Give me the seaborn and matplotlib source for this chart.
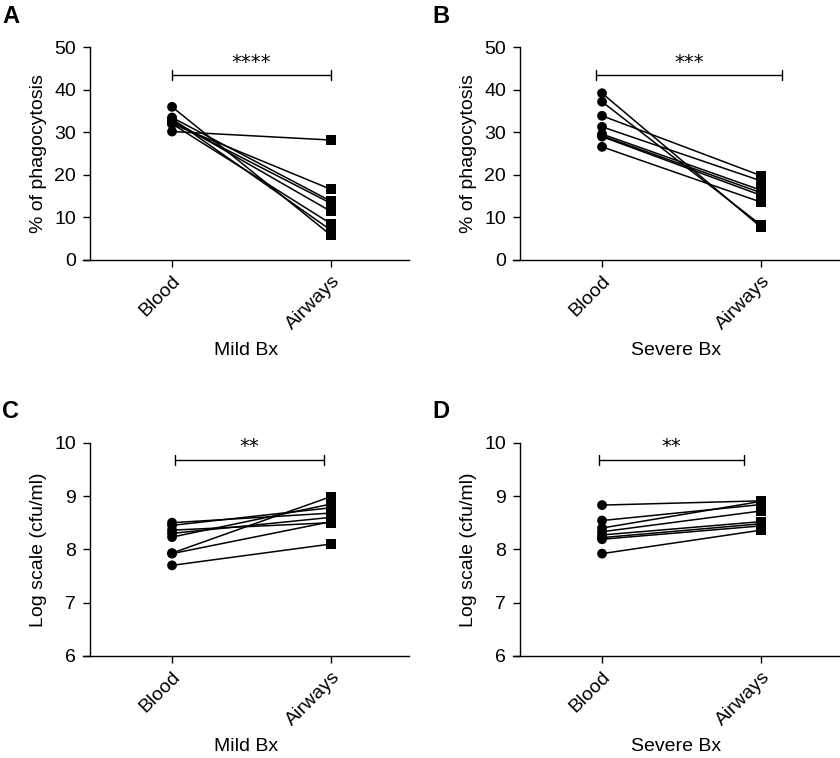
import pandas as pd
import seaborn as sns
import matplotlib.pyplot as plt

sns.set_style("ticks")
plt.rcParams["font.family"] = ["Liberation Sans", "DejaVu Sans"]
for key in ["text.color", "axes.labelcolor", "xtick.color", "ytick.color", "axes.edgecolor"]:
    plt.rcParams[key] = "black"

sites = ["Blood", "Airways"]

# % of phagocytosis, paired per subject (blood -> airways)
mild_phago_blood = [30.2, 32.0, 33.5, 32.5, 32.9, 32.0, 33.2, 36.0]
mild_phago_airways = [28.2, 16.6, 13.8, 13.3, 11.4, 8.5, 7.0, 5.8]
severe_phago_blood = [39.2, 37.2, 33.9, 31.3, 29.6, 29.2, 29.0, 26.6]
severe_phago_airways = [7.7, 8.2, 19.8, 18.6, 16.4, 15.8, 15.2, 13.6]

# bacterial load, log scale (cfu/ml)
mild_cfu_blood = [8.50, 8.45, 8.36, 8.30, 8.23, 7.93, 7.92, 7.70]
mild_cfu_airways = [8.68, 8.78, 8.50, 8.60, 8.85, 8.99, 8.52, 8.10]
severe_cfu_blood = [8.83, 8.54, 8.40, 8.33, 8.27, 8.22, 8.19, 7.92]
severe_cfu_airways = [8.91, 8.84, 8.90, 8.72, 8.52, 8.48, 8.44, 8.36]


def paired_frame(blood, airways):
    n = len(blood)
    return pd.DataFrame({
        "subject": list(range(n)) * 2,
        "site": [sites[0]] * n + [sites[1]] * n,
        "pos": [0] * n + [1] * n,
        "value": list(blood) + list(airways),
    })


W, H = 840, 758
fig = plt.figure(figsize=(W / 100, H / 100), dpi=100)


def make_axes(left_px, top_px, bottom_px, width_px=326):
    return fig.add_axes([left_px / W, 1 - bottom_px / H, width_px / W, (bottom_px - top_px) / H])


panels = [
    # letter, axes box, blood, airways, ylim, yticks, ylabel, xlabel, bracket, stars
    ("A", (83, 47.3, 260), mild_phago_blood, mild_phago_airways, (0, 50), range(0, 51, 10),
     "% of phagocytosis", "Mild Bx", (0.0, 1.0, 43.4, 46.4), "****"),
    ("B", (513, 47.3, 260), severe_phago_blood, severe_phago_airways, (0, 50), range(0, 51, 10),
     "% of phagocytosis", "Severe Bx", (-0.035, 1.13, 43.4, 46.4), "***"),
    ("C", (83, 442.7, 656), mild_cfu_blood, mild_cfu_airways, (6, 10), range(6, 11),
     "Log scale (cfu/ml)", "Mild Bx", (0.02, 0.956, 9.68, 9.92), "**"),
    ("D", (513, 442.7, 656), severe_cfu_blood, severe_cfu_airways, (6, 10), range(6, 11),
     "Log scale (cfu/ml)", "Severe Bx", (-0.017, 0.89, 9.68, 9.92), "**"),
]

for letter, box, blood, airways, ylim, yticks, ylabel, xlabel, bracket, stars in panels:
    left_px, top_px, bottom_px = box
    ax = make_axes(left_px, top_px, bottom_px)
    df = paired_frame(blood, airways)

    sns.lineplot(data=df, x="pos", y="value", units="subject", estimator=None,
                 color="black", linewidth=1.1, ax=ax)
    sns.scatterplot(data=df, x="pos", y="value", style="site",
                    markers={"Blood": "o", "Airways": "s"}, color="black",
                    s=50, linewidth=0, legend=False, ax=ax, zorder=3)

    ax.set_xlim(-0.56, 1.49)
    ax.set_ylim(*ylim)
    ax.set_xticks([0, 1])
    ax.set_xticklabels(sites, rotation=45, ha="right", rotation_mode="anchor", fontsize=14)
    ax.set_yticks(list(yticks))
    ax.tick_params(axis="y", labelsize=14, length=5, width=1.0, pad=5)
    ax.tick_params(axis="x", length=5, width=1.0, pad=4)

    for side in ["top", "right"]:
        ax.spines[side].set_visible(False)
    for side in ["left", "bottom"]:
        ax.spines[side].set_linewidth(1.0)
    ax.spines["left"].set_position(("axes", 7 / 326))

    ax.set_ylabel(ylabel, fontsize=14)
    ax.yaxis.set_label_coords(-0.11, 0.5)
    ax.set_xlabel(xlabel, fontsize=14)
    ax.xaxis.set_label_coords(0.5, -0.385)

    # significance bracket
    x0, x1, yb, ys = bracket
    cap = (ylim[1] - ylim[0]) * 5 / (bottom_px - top_px)
    ax.plot([x0, x1], [yb, yb], color="black", lw=1.0, clip_on=False)
    ax.plot([x0, x0], [yb - cap, yb + cap], color="black", lw=1.0, clip_on=False)
    ax.plot([x1, x1], [yb - cap, yb + cap], color="black", lw=1.0, clip_on=False)
    ax.text((x0 + x1) / 2, ys, stars, ha="center", va="center", fontsize=14,
            family="DejaVu Sans")

    fig.text((left_px - 81) / W, 1 - (top_px - 31) / H, letter, fontsize=17,
             fontweight="bold", ha="left", va="center")

fig.savefig("out.png", dpi=100)
